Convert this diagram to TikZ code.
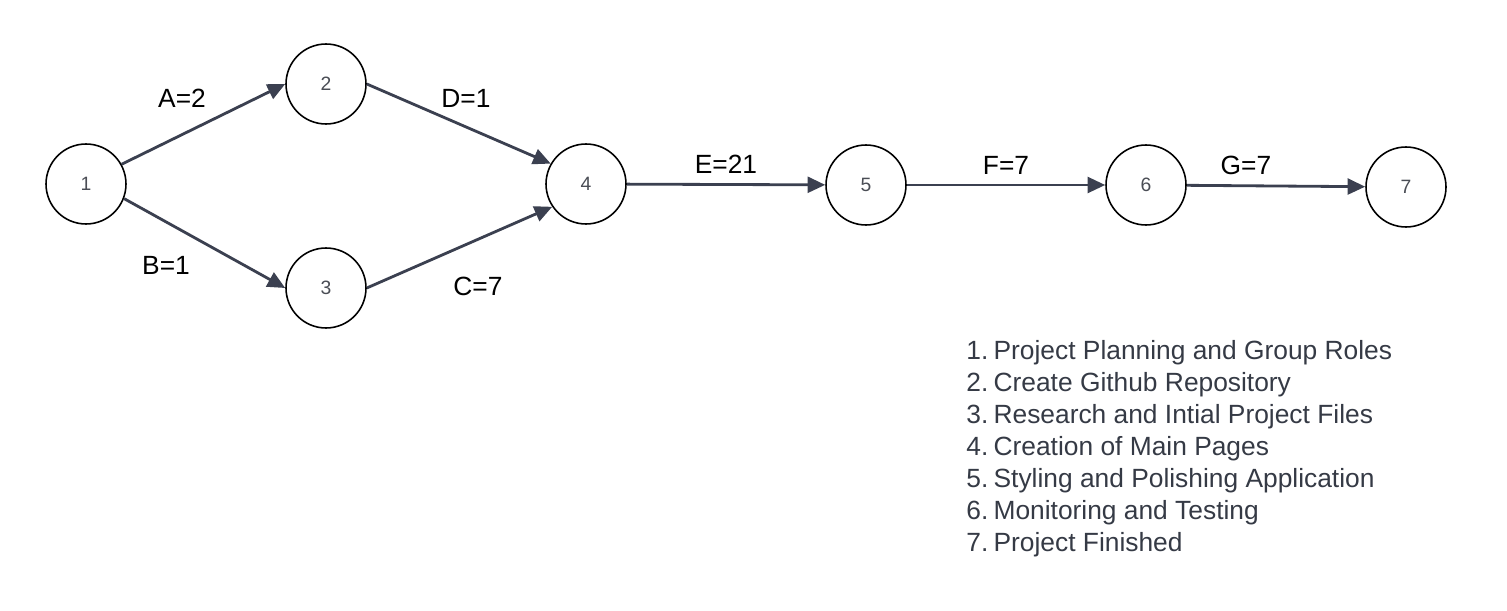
\documentclass[tikz,border=0pt]{standalone}
\usepackage{fontspec}
\setmainfont{Liberation Sans}
\usetikzlibrary{arrows.meta}
\definecolor{edgegray}{HTML}{3B4050}
\definecolor{listgray}{HTML}{353A45}
\definecolor{numgray}{HTML}{4A4D55}

\tikzset{
  event/.style={circle,draw=black,line width=0.9pt,minimum size=1.6cm,inner sep=0pt,
    text=numgray,font=\fontsize{11}{13}\selectfont},
  act/.style={draw=edgegray,line width=1.6pt,-{Triangle[length=10pt,width=9pt]}},
  lbl/.style={font=\fontsize{15}{18}\selectfont},
  item/.style={anchor=base west,inner sep=0pt,text=listgray,font=\fontsize{15}{18}\selectfont}
}

\begin{document}
\begin{tikzpicture}[x=0.02cm,y=-0.02cm]
\useasboundingbox (0,0) rectangle (1507,611);

\node [event] (e1) at (86,184) {1};
\node [event] (e2) at (326,84) {2};
\node [event] (e3) at (326,288) {3};
\node [event] (e4) at (586,184) {4};
\node [event] (e5) at (866,185) {5};
\node [event] (e6) at (1146,185) {6};
\node [event] (e7) at (1406,187) {7};

\draw[act] (e1.29) -- (e2.west);
\draw[act] (e1.-21) -- (e3.west);
\draw[act] (e2.east) -- (e4.150);
\draw[act] (e3.east) -- (e4.214);
\draw[act] (e4) -- (e5);
\draw[act] (e5) -- (e6);
\draw[act] (e6) -- (e7);

\node [lbl] (la) at (182,98) {A=2};
\node [lbl] (lb) at (166,265) {B=1};
\node [lbl] (ld) at (466,98) {D=1};
\node [lbl] (lc) at (478,286) {C=7};
\node [lbl] (le) at (726,164) {E=21};
\node [lbl] (lf) at (1006,165) {F=7};
\node [lbl] (lg) at (1246,165) {G=7};

% legend
\foreach \n/\t in {1/Project Planning and Group Roles,
                   2/Create Github Repository,
                   3/Research and Intial Project Files,
                   4/Creation of Main Pages,
                   5/Styling and Polishing Application,
                   6/Monitoring and Testing,
                   7/Project Finished}
  \node [item] (it\n) at (966,327+32*\n) {\n.\kern3pt\t};

\end{tikzpicture}
\end{document}
